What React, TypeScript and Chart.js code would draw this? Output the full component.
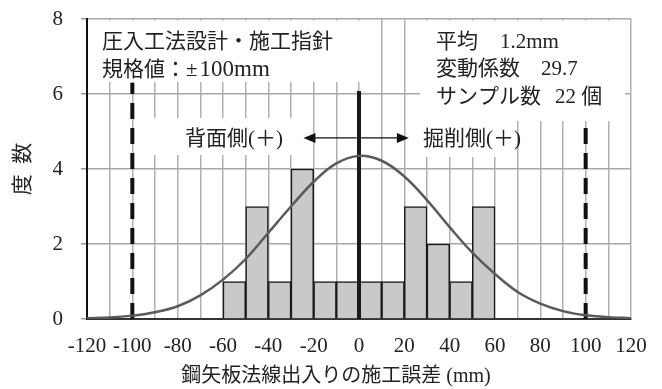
import { useEffect, useRef } from 'react';
import { Chart, registerables } from 'chart.js';

Chart.register(...registerables);

// Histogram bins (bin centres, mm) and counts
const binCenters = [-55, -45, -35, -25, -15, -5, 5, 15, 25, 35, 45, 55];
const binCounts = [1, 3, 1, 4, 1, 1, 1, 1, 3, 2, 1, 3];

// Fitted curve
const curveX = [-120, -110, -100, -90, -80, -70, -60, -50, -40, -30, -20, -10, 0, 10, 20, 30, 40, 50, 60, 70, 80, 90, 100, 110, 120];
const curveY = [0.02, 0.04, 0.09, 0.18, 0.34, 0.63, 1.05, 1.6, 2.3, 3.0, 3.66, 4.15, 4.35, 4.22, 3.8, 3.17, 2.45, 1.77, 1.2, 0.72, 0.41, 0.21, 0.1, 0.05, 0.02];

// Specification limits and centre line
const specLimits = [-100, 100];
const specLineTops = [6.3, 5.25];
const centerValue = 0;
const centerLineTop = 6.08;

// Axis
const xMin = -120;
const xMax = 120;
const yMin = 0;
const yMax = 8;
const xTitle = '鋼矢板法線出入りの施工誤差 (mm)';
const yTitle = '度  数';

// Annotations
const infoTitle = '圧入工法設計・施工指針';
const infoSpecLabel = '規格値：±';
const infoSpecValue = '100mm';
const statLabels = ['平均', '変動係数', 'サンプル数'];
const statValues = ['1.2mm', '29.7', '22 個'];
const sideLabels = ['背面側(＋)', '掘削側(＋)'];

const FONT = '"Liberation Serif", "Noto Sans CJK JP", serif';

export default function App() {
  const ref = useRef<HTMLCanvasElement | null>(null);

  useEffect(() => {
    document.body.style.margin = '0';
    const canvas = ref.current;
    if (!canvas) return;

    const annotate = {
      id: 'annotate',
      beforeDatasetsDraw(chart: any) {
        const ctx = chart.ctx;
        ctx.save();
        ctx.fillStyle = '#ffffff';
        // white panels behind the texts
        ctx.fillRect(89, 20.5, 283, 61.5);
        ctx.fillRect(420, 20.5, 205, 100.5);
        ctx.fillRect(150, 118, 160, 37);
        ctx.fillRect(410, 121, 102, 36);
        ctx.restore();
      },
      afterDatasetsDraw(chart: any) {
        const ctx = chart.ctx;
        const xs = chart.scales.x;
        const ys = chart.scales.y;
        ctx.save();
        ctx.fillStyle = '#222';
        ctx.textBaseline = 'middle';
        ctx.textAlign = 'left';
        ctx.font = `21px ${FONT}`;
        ctx.fillText(infoTitle, 102, 42);
        ctx.fillText(infoSpecLabel, 102, 70);
        const w = ctx.measureText(infoSpecLabel).width;
        ctx.font = `23px ${FONT}`;
        ctx.fillText(infoSpecValue, 102 + w + 2, 70);
        ctx.font = `21px ${FONT}`;
        const statY = [42, 69, 97];
        const valX = [500, 541, 555];
        statLabels.forEach((s, i) => {
          ctx.fillText(s, 436, statY[i]);
          ctx.fillText(statValues[i], valX[i], statY[i]);
        });
        ctx.fillText(sideLabels[0], 185, 139);
        ctx.fillText(sideLabels[1], 423, 139);

        // arrows
        const ay = ys.getPixelForValue(4.83);
        const drawArrow = (from: number, to: number) => {
          const dir = Math.sign(to - from);
          ctx.strokeStyle = '#111';
          ctx.lineWidth = 1.3;
          ctx.beginPath();
          ctx.moveTo(from, ay);
          ctx.lineTo(to - dir * 8, ay);
          ctx.stroke();
          ctx.fillStyle = '#111';
          ctx.beginPath();
          ctx.moveTo(to, ay);
          ctx.lineTo(to - dir * 12, ay - 5);
          ctx.lineTo(to - dir * 12, ay + 5);
          ctx.closePath();
          ctx.fill();
        };
        drawArrow(xs.getPixelForValue(-1), xs.getPixelForValue(-24.5));
        drawArrow(xs.getPixelForValue(1), xs.getPixelForValue(22));

        // x axis title
        ctx.fillStyle = '#222';
        ctx.textAlign = 'center';
        ctx.font = `20px ${FONT}`;
        ctx.fillText(xTitle, 336, 377);
        ctx.restore();
      },
    };

    const chart = new Chart(canvas, {
      data: {
        datasets: [
          {
            type: 'line',
            data: curveX.map((x, i) => ({ x, y: curveY[i] })),
            borderColor: '#5a5a5a',
            borderWidth: 2.5,
            pointRadius: 0,
            tension: 0.4,
            fill: false,
            order: 0,
          },
          {
            type: 'line',
            data: [
              { x: centerValue, y: 0 },
              { x: centerValue, y: centerLineTop },
            ],
            borderColor: '#1a1a1a',
            borderWidth: 4,
            pointRadius: 0,
            order: 1,
          },
          ...specLimits.map((v, i) => ({
            type: 'line' as const,
            data: [
              { x: v, y: 0 },
              { x: v, y: specLineTops[i] },
            ],
            borderColor: '#111',
            borderWidth: 4,
            borderDash: [16, 9],
            borderCapStyle: 'butt' as const,
            pointRadius: 0,
            order: 1,
          })),
          {
            type: 'bar',
            data: binCenters.map((x, i) => ({ x, y: binCounts[i] })),
            backgroundColor: '#c8c9cb',
            borderColor: '#1a1a1a',
            borderWidth: 1.5,
            barPercentage: 1,
            categoryPercentage: 1,
            grouped: false,
            order: 2,
          },
        ],
      } as any,
      options: {
        responsive: false,
        animation: false,
        devicePixelRatio: 1,
        layout: { padding: { top: 19, right: 31, left: 0, bottom: 0 } },
        plugins: {
          legend: { display: false },
          tooltip: { enabled: false },
        },
        scales: {
          x: {
            type: 'linear',
            min: xMin,
            max: xMax,
            offset: false,
            afterFit: (s: any) => {
              s.height = 70;
              s.paddingLeft = 0;
              s.paddingRight = 0;
            },
            ticks: {
              stepSize: 10,
              autoSkip: false,
              maxRotation: 0,
              padding: 15,
              color: '#222',
              font: { family: FONT, size: 21 },
              callback: (v: any) => (Number(v) % 20 === 0 ? String(v) : ''),
            },
            grid: { color: '#b0b0b0', lineWidth: 1.5, drawTicks: false, offset: false },
            border: { display: true, color: '#333', width: 2 },
          },
          y: {
            min: yMin,
            max: yMax,
            afterFit: (s: any) => {
              s.width = 87;
              s.paddingTop = 0;
              s.paddingBottom = 0;
            },
            ticks: {
              stepSize: 2,
              padding: 18,
              color: '#222',
              font: { family: FONT, size: 21 },
            },
            grid: { color: '#a8a8a8', lineWidth: 1.5, tickLength: 6, tickColor: '#999' },
            border: { display: true, color: '#111', width: 2 },
            title: {
              display: true,
              text: yTitle,
              color: '#222',
              font: { family: FONT, size: 21 },
              padding: { top: 11, bottom: 0 },
            },
          },
        },
      } as any,
      plugins: [annotate],
    });

    return () => chart.destroy();
  }, []);

  return (
    <div style={{ width: 662, height: 389 }}>
      <canvas ref={ref} width={662} height={389} style={{ display: 'block' }} />
    </div>
  );
}
